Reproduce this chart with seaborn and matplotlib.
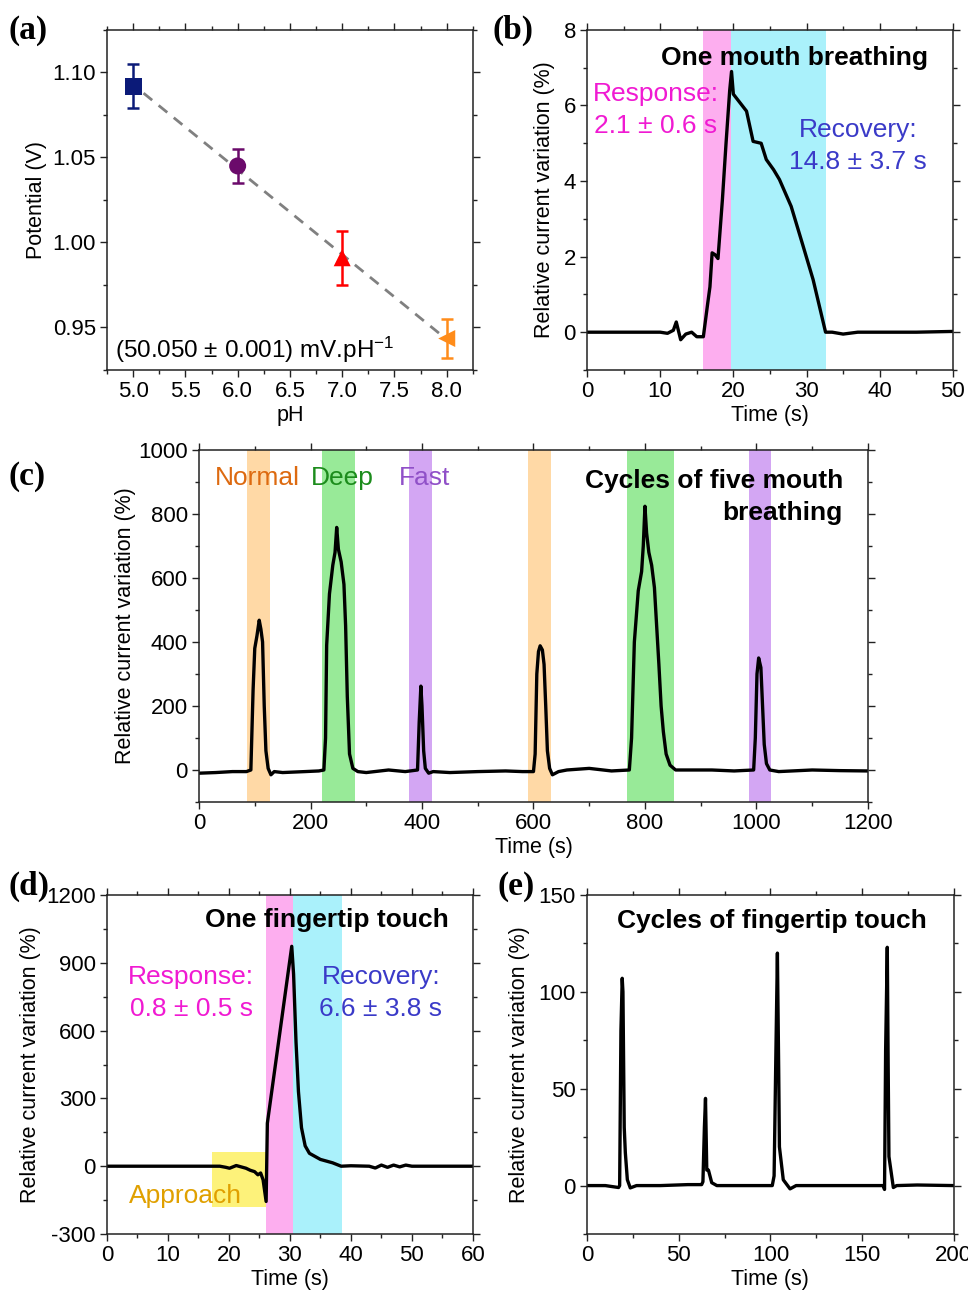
import matplotlib
matplotlib.use('AGG')
import numpy as np
import matplotlib.pyplot as plt
from matplotlib.ticker import MultipleLocator, FormatStrFormatter
import seaborn as sns

# ---- data ----
# (a) potential vs pH
ph = [5.0, 6.0, 7.0, 8.0]
potential = [1.092, 1.045, 0.991, 0.9435]
potential_err = [0.013, 0.010, 0.016, 0.0115]
ph_markers = ['s', 'o', '^', '<']
ph_colors = ['#0b1a78', '#6b0a6b', '#ff0000', '#ff8c1a']

# (b) one mouth breathing
b_time = [0, 5, 10, 11, 11.8, 12.2, 12.8, 13.5, 14.3, 15.0, 15.9, 16.5, 16.8, 17.1,
          17.5, 17.9, 18.5, 19.0, 19.5, 19.75, 20.0, 20.8, 21.8, 22.7, 23.8, 24.5,
          25.5, 26.3, 27.9, 29.5, 30.9, 32.6, 33.5, 35.0, 37.0, 45, 50]
b_val = [0, 0, 0, -0.03, 0.05, 0.27, -0.2, -0.05, 0.0, -0.12, -0.12, 0.77, 1.2, 2.1,
         2.05, 1.95, 3.5, 5.0, 6.4, 6.9, 6.3, 6.1, 5.85, 5.05, 5.0, 4.57,
         4.3, 4.04, 3.33, 2.3, 1.39, 0.0, 0.0, -0.05, 0.0, 0.0, 0.02]
b_spans = [(15.85, 19.7), (19.7, 32.6)]

# (c) cycles of five mouth breathing
c_time = [0, 30, 60, 85, 93, 97, 100, 104, 108, 111, 114, 117, 120, 124, 129, 135,
          150, 190, 215, 224, 227, 229, 234, 240, 244, 247, 250, 255, 260, 263, 266,
          270, 276, 285, 300, 340, 370, 392, 395, 398, 400, 403, 406, 412, 420,
          450, 500, 550, 580, 600, 603, 606, 609, 612, 616, 619, 622, 625, 629, 634,
          645, 660, 700, 740, 772, 776, 781, 788, 794, 797, 800, 803, 807, 812, 817,
          821, 825, 829, 833, 838, 845, 855, 870, 920, 960, 995, 998, 1001, 1004,
          1008, 1011, 1014, 1018, 1024, 1040, 1100, 1150, 1200]
c_val = [-10, -8, -5, -5, 0, 250, 380, 420, 468, 440, 400, 200, 60, 5, -15, -5,
         -8, -5, -3, 0, 100, 390, 550, 640, 680, 758, 690, 650, 580, 450, 230,
         50, 5, -5, -8, 0, -5, 0, 150, 262, 200, 60, 5, -10, -5,
         -8, -5, -3, -5, -5, 50, 300, 370, 388, 375, 330, 200, 60, 5, -15,
         -5, 0, 5, -3, 0, 100, 400, 560, 620, 700, 824, 740, 680, 640, 570,
         450, 330, 200, 120, 50, 15, 0, 0, 0, -3, 0, 100, 300, 350,
         320, 200, 80, 20, 0, -5, 0, -2, -3]
c_spans = [(86, 127), (221, 280), (377, 418), (590, 632), (768, 852), (986, 1027)]
c_span_colors = ['#ffd9a6', '#98ea98', '#d3a6f3', '#ffd9a6', '#98ea98', '#d3a6f3']
c_labels = ['Normal', 'Deep', 'Fast']
c_label_x = [29, 201, 359]
c_label_colors = ['#dd6a10', '#1c8c1c', '#9050c8']

# (d) one fingertip touch
d_time = [0, 10, 17, 18.5, 19.5, 20.1, 21.2, 22.0, 22.8, 23.5, 24.2, 24.75, 25.2,
          25.6, 26.1, 26.3, 30.3, 30.6, 31.0, 31.4, 31.9, 32.5, 33.2, 35, 37, 38.4,
          40, 43, 44, 45, 46, 47, 48, 49, 50, 55, 60]
d_val = [0, 0, 0, 0, -5, -9, 3, -3, -9, -18, -24, -38, -30,
         -60, -156, 190, 973, 850, 550, 330, 170, 90, 57, 30, 15, 0,
         2, 0, -8, 5, -5, 5, -3, 5, 0, 0, 0]
d_spans = [(26.1, 30.5), (30.5, 38.5)]
d_approach = (17.3, 26.1, -180, 65)

# (e) cycles of fingertip touch
e_time = [0, 10, 17.2, 17.8, 18.5, 19.2, 19.6, 20.3, 20.9, 22, 23.6, 27, 40, 55,
          62.5, 63.2, 64.0, 64.6, 65.3, 66.2, 68, 70.8, 85, 101, 102, 103, 103.8,
          104.5, 104.9, 107, 110.7, 114, 130, 150, 161.5, 162.2, 162.8, 163.7,
          164.2, 164.6, 167, 168.8, 180, 200]
e_val = [0, 0, -1, 0, 80, 107, 100, 30, 17, 3, -1.2, 0, 0, 0.5,
         0.5, 2, 30, 45, 8, 8, 1.5, 0, 0, 0, 5, 70, 120,
         60, 20, 3, -1.7, 0, 0, 0, 0, -2, 70, 123,
         60, 15, -1, 0, 0.3, 0]

PINK = '#fdaeef'
CYAN = '#aaf1fb'
MAGENTA = '#f01ad2'
BLUE = '#3a3ac8'

sns.set_theme(style='ticks')
plt.rcParams['font.family'] = ['Liberation Sans', 'DejaVu Sans']
plt.rcParams['mathtext.fontset'] = 'custom'
plt.rcParams['mathtext.rm'] = 'Liberation Sans'
plt.rcParams['mathtext.it'] = 'Liberation Sans:italic'
plt.rcParams['mathtext.bf'] = 'Liberation Sans:bold'
plt.rcParams['axes.unicode_minus'] = False
plt.rcParams['text.color'] = 'black'
plt.rcParams['axes.labelcolor'] = 'black'

fig = plt.figure(figsize=(9.68, 12.9), dpi=100)
ax_a = fig.add_axes([0.1105, 0.7132, 0.378, 0.2636])
ax_b = fig.add_axes([0.6064, 0.7132, 0.378, 0.2636])
ax_c = fig.add_axes([0.2056, 0.3783, 0.691, 0.2729])
ax_d = fig.add_axes([0.1105, 0.0434, 0.378, 0.2628])
ax_e = fig.add_axes([0.6064, 0.0434, 0.379, 0.2628])

TICK = 16
LABEL = 15.5
NOTE = 19
LS = 1.4


def style(ax, xmaj, xmin, ymaj, ymin):
    ax.xaxis.set_major_locator(MultipleLocator(xmaj))
    ax.xaxis.set_minor_locator(MultipleLocator(xmin))
    ax.yaxis.set_major_locator(MultipleLocator(ymaj))
    ax.yaxis.set_minor_locator(MultipleLocator(ymin))
    ax.tick_params(which='both', direction='out', top=True, right=True,
                   width=1.0, colors='#222222', labelcolor='black', labelsize=TICK, pad=3)
    ax.tick_params(which='major', length=5)
    ax.tick_params(which='minor', length=3)
    for s in ax.spines.values():
        s.set_visible(True)
        s.set_linewidth(1.1)
        s.set_color('#222222')


# ---- (a) ----
for x, y, e, c in zip(ph, potential, potential_err, ph_colors):
    ax_a.errorbar(x, y, yerr=e, fmt='none', ecolor=c, elinewidth=1.8, capsize=4, capthick=1.8)
sns.scatterplot(x=ph, y=potential, hue=ph, palette=ph_colors, style=ph,
                markers=ph_markers, s=150, edgecolor='none', legend=False, ax=ax_a, zorder=5)
fit = np.polyfit(ph, potential, 1)
fit_x = np.array([5.1, 8.0])
ax_a.plot(fit_x, np.polyval(fit, fit_x), ls=(0, (4, 3)), color='#808080', lw=2, zorder=3)
ax_a.set_xlim(4.75, 8.25)
ax_a.set_ylim(0.925, 1.125)
style(ax_a, 0.5, 0.25, 0.05, 0.025)
ax_a.xaxis.set_major_formatter(FormatStrFormatter('%.1f'))
ax_a.yaxis.set_major_formatter(FormatStrFormatter('%.2f'))
ax_a.set_xlabel('pH', fontsize=LABEL, labelpad=2)
ax_a.set_ylabel('Potential (V)', fontsize=LABEL)
ax_a.text(4.826, 0.937, r'(50.050 $\pm$ 0.001) mV.pH$^{-1}$', fontsize=17.5, va='center')

# ---- (b) ----
for (x0, x1), col in zip(b_spans, [PINK, CYAN]):
    ax_b.axvspan(x0, x1, color=col, lw=0, zorder=0)
sns.lineplot(x=b_time, y=b_val, color='black', lw=2.4, ax=ax_b)
ax_b.set_xlim(0, 50)
ax_b.set_ylim(-1, 8)
style(ax_b, 10, 5, 2, 1)
ax_b.set_xlabel('Time (s)', fontsize=LABEL, labelpad=2)
ax_b.set_ylabel('Relative current variation (%)', fontsize=LABEL, labelpad=6)
ax_b.text(46.6, 7.26, 'One mouth breathing', fontsize=NOTE, fontweight='bold', ha='right', va='center')
ax_b.text(9.4, 5.88, 'Response:\n2.1 ± 0.6 s', color=MAGENTA, fontsize=NOTE, ha='center', va='center', linespacing=LS)
ax_b.text(37.0, 4.93, 'Recovery:\n14.8 ± 3.7 s', color=BLUE, fontsize=NOTE, ha='center', va='center', linespacing=LS)

# ---- (c) ----
for (x0, x1), col in zip(c_spans, c_span_colors):
    ax_c.axvspan(x0, x1, color=col, lw=0, zorder=0)
sns.lineplot(x=c_time, y=c_val, color='black', lw=2.4, ax=ax_c)
ax_c.set_xlim(0, 1200)
ax_c.set_ylim(-100, 1000)
style(ax_c, 200, 100, 200, 100)
ax_c.set_xlabel('Time (s)', fontsize=LABEL, labelpad=2)
ax_c.set_ylabel('Relative current variation (%)', fontsize=LABEL, labelpad=2)
for lab, x, col in zip(c_labels, c_label_x, c_label_colors):
    ax_c.text(x, 912, lab, color=col, fontsize=NOTE, ha='left', va='center')
ax_c.text(1155, 853, 'Cycles of five mouth\nbreathing', fontsize=NOTE, fontweight='bold',
          ha='right', va='center', multialignment='right', linespacing=LS)

# ---- (d) ----
ax_d.fill_between([d_approach[0], d_approach[1]], d_approach[2], d_approach[3],
                  color='#fdf27a', lw=0, zorder=0)
for (x0, x1), col in zip(d_spans, [PINK, CYAN]):
    ax_d.axvspan(x0, x1, color=col, lw=0, zorder=0)
sns.lineplot(x=d_time, y=d_val, color='black', lw=2.4, ax=ax_d)
ax_d.set_xlim(0, 60)
ax_d.set_ylim(-300, 1200)
style(ax_d, 10, 5, 300, 150)
ax_d.set_xlabel('Time (s)', fontsize=LABEL, labelpad=2)
ax_d.set_ylabel('Relative current variation (%)', fontsize=LABEL)
ax_d.text(56.1, 1089, 'One fingertip touch', fontsize=NOTE, fontweight='bold', ha='right', va='center')
ax_d.text(13.8, 766, 'Response:\n0.8 ± 0.5 s', color=MAGENTA, fontsize=NOTE, ha='center', va='center', linespacing=LS)
ax_d.text(44.9, 766, 'Recovery:\n6.6 ± 3.8 s', color=BLUE, fontsize=NOTE, ha='center', va='center', linespacing=LS)
ax_d.text(12.95, -133, 'Approach', color='#e0a000', fontsize=NOTE, ha='center', va='center')

# ---- (e) ----
sns.lineplot(x=e_time, y=e_val, color='black', lw=2.4, ax=ax_e)
ax_e.set_xlim(0, 200)
ax_e.set_ylim(-25, 150)
style(ax_e, 50, 25, 50, 25)
ax_e.set_xlabel('Time (s)', fontsize=LABEL, labelpad=2)
ax_e.set_ylabel('Relative current variation (%)', fontsize=LABEL, labelpad=6)
ax_e.text(101, 136.6, 'Cycles of fingertip touch', fontsize=NOTE, fontweight='bold', ha='center', va='center')

# panel letters
for lab, x, y in [('(a)', 8, 30), ('(b)', 492, 30), ('(c)', 8, 476), ('(d)', 8, 886), ('(e)', 497, 886)]:
    fig.text(x / 968, 1 - y / 1290, lab, family=['Liberation Serif', 'DejaVu Serif'],
             fontweight='bold', fontsize=24, ha='left', va='center')

fig.savefig('out.png', dpi=100)
